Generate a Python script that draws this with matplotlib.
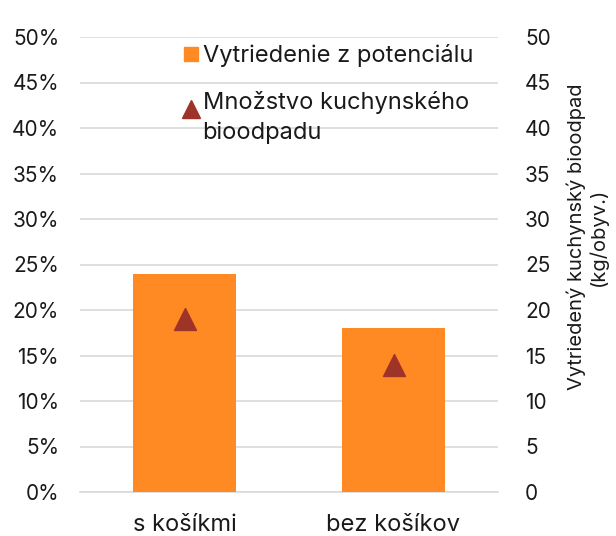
import matplotlib
matplotlib.use("Agg")
import matplotlib.pyplot as plt
from matplotlib.lines import Line2D
from matplotlib.legend_handler import HandlerLine2D
import numpy as np

categories = ["s košíkmi", "bez košíkov"]
share_pct = [24, 18]          # Vytriedenie z potenciálu (%)
amount_kg = [19, 14]          # Množstvo kuchynského bioodpadu (kg/obyv.)
left_ticks = [0, 5, 10, 15, 20, 25, 30, 35, 40, 45, 50]
right_ticks = [0, 5, 10, 15, 20, 25, 30, 35, 40, 45, 50]

plt.rcParams['font.family'] = ['Inter', 'DejaVu Sans']

bar_color = "#FF8A24"
tri_color = "#9E3327"
grid_color = "#D9D9D9"
txt = "#1a1a1a"


class ShiftedHandler(HandlerLine2D):
    def __init__(self, dy=0, **kw):
        super().__init__(**kw)
        self.dy = dy

    def create_artists(self, legend, orig_handle, xdescent, ydescent,
                       width, height, fontsize, trans):
        return super().create_artists(legend, orig_handle, xdescent,
                                      ydescent - self.dy, width, height,
                                      fontsize, trans)


fig = plt.figure(figsize=(6.16, 5.36), dpi=100)
ax = fig.add_axes([80/616, 44/536, 418/616, 455/536])
ax2 = ax.twinx()

x = np.arange(len(categories))
ax.bar(x, share_pct, width=0.49, color=bar_color, zorder=3)
ax.set_xlim(-0.5, 1.5)
ax.set_ylim(0, 50)
ax.set_yticks(left_ticks)
ax.set_yticklabels([f"{t}%" for t in left_ticks])
ax.set_xticks(x)
ax.set_xticklabels(categories)
ax.yaxis.grid(True, color=grid_color, linewidth=1.2, zorder=0)
ax.set_axisbelow(True)
for s in ["top", "right", "left"]:
    ax.spines[s].set_visible(False)
ax.spines["bottom"].set_color(grid_color)
ax.spines["bottom"].set_linewidth(1.2)
ax.tick_params(axis="y", length=0, labelsize=15, colors=txt, pad=15)
ax.tick_params(axis="x", length=0, labelsize=17, colors=txt, pad=16)

ax2.scatter(x, amount_kg, marker="^", s=250, color=tri_color, zorder=4)
ax2.set_ylim(0, 50)
ax2.set_yticks(right_ticks)
for s in ax2.spines.values():
    s.set_visible(False)
ax2.tick_params(axis="y", length=0, labelsize=15, colors=txt, pad=19.5)
ax2.set_ylabel("Vytriedený kuchynský bioodpad\n(kg/obyv.)", fontsize=14.5,
               color=txt, linespacing=1.1)
ax2.yaxis.set_label_coords(1.165, 0.56)

h_bar = Line2D([], [], marker="s", linestyle="none", color=bar_color, markersize=10)
h_tri = Line2D([], [], marker="^", linestyle="none", color=tri_color, markersize=13)
labels = ["Vytriedenie z potenciálu", "Množstvo kuchynského\nbioodpadu"]
leg = ax.legend([h_bar, h_tri], labels, loc="upper left", bbox_to_anchor=(0.2, 1.02),
                frameon=False, fontsize=17, handletextpad=0.05, handlelength=0.9,
                labelspacing=1.0, borderaxespad=0.3,
                handler_map={h_tri: ShiftedHandler(dy=12)})
for t in leg.get_texts():
    t.set_color(txt)
    t.set_linespacing(1.4)

fig.savefig("out.png", dpi=100)
